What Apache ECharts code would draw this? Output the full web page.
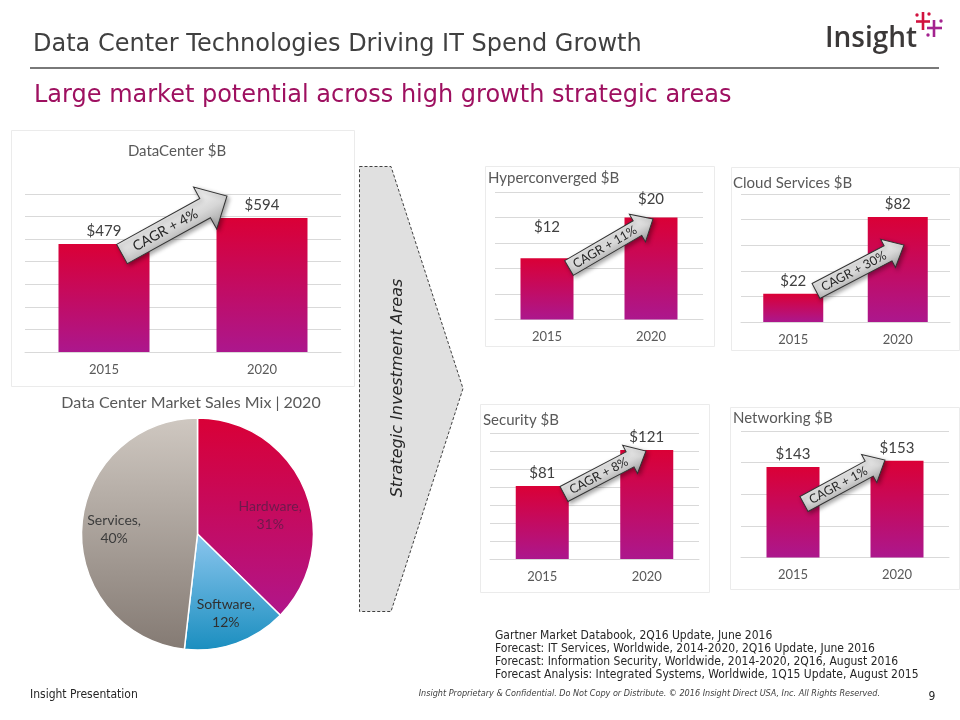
<!DOCTYPE html>
<html><head><meta charset="utf-8">
<script src="https://cdn.jsdelivr.net/npm/echarts@6/dist/echarts.min.js"></script>
<style>html,body{margin:0;padding:0;background:#fff}#c{width:960px;height:720px}</style>
</head><body><div id="c"></div>
<script>
// ---------- data ----------
const years = ['2015', '2020'];
const dataCenter = [479, 594];
const hyperconverged = [12, 20];
const cloudServices = [22, 82];
const security = [81, 121];
const networking = [143, 153];
const cagrLabels = ['CAGR + 4%', 'CAGR + 11%', 'CAGR + 30%', 'CAGR + 8%', 'CAGR + 1%'];
const mixNames = ['Hardware', 'Software', 'Services'];
const mixValues = [31, 12, 40];
const panelTitles = ['DataCenter $B', 'Hyperconverged $B', 'Cloud Services $B', 'Security $B', 'Networking $B'];
const sourceLines = [
  'Gartner Market Databook, 2Q16 Update, June 2016',
  'Forecast: IT Services, Worldwide, 2014-2020, 2Q16 Update, June 2016',
  'Forecast: Information Security, Worldwide, 2014-2020, 2Q16, August 2016',
  'Forecast Analysis: Integrated Systems, Worldwide, 1Q15 Update, August 2015'
];

// ---------- layout ----------
const FONT = 'Lato, "Open Sans", sans-serif';
const panels = [
  { values: dataCenter, grid: { left: 25, top: 194, width: 316, height: 158 }, max: 700, interval: 100, barWidth: 91, gaps: [5, 5] },
  { values: hyperconverged, grid: { left: 495, top: 192, width: 208, height: 127.5 }, max: 25, interval: 5, barWidth: 53, gaps: [24, 11] },
  { values: cloudServices, grid: { left: 741, top: 194, width: 209, height: 128 }, max: 100, interval: 20, barWidth: 60, gaps: [5, 5] },
  { values: security, grid: { left: 490, top: 433, width: 209, height: 126 }, max: 140, interval: 20, barWidth: 53, gaps: [5, 5] },
  { values: networking, grid: { left: 741, top: 431, width: 208, height: 126.5 }, max: 200, interval: 50, barWidth: 53, gaps: [5, 5] }
];
const titlePos = [
  { x: 177, y: 151, align: 'center', size: 15 },
  { x: 488, y: 178, align: 'left', size: 15 },
  { x: 733, y: 183, align: 'left', size: 15 },
  { x: 483, y: 420, align: 'left', size: 15 },
  { x: 733, y: 418, align: 'left', size: 15 }
];
const panelBoxes = [
  [11, 130, 343, 256], [485, 166, 229, 180], [731, 167, 228, 183], [480, 404, 229, 188], [730, 407, 229, 182]
];
const arrows = [
  { a: [122, 254], b: [227, 196], shaft: 22, head: 48, headLen: 25, size: 14 },
  { a: [569, 268], b: [653, 219], shaft: 17, head: 32, headLen: 18, size: 12.5 },
  { a: [816, 291], b: [904, 245], shaft: 17, head: 32, headLen: 18, size: 12.5 },
  { a: [564, 494], b: [646, 451], shaft: 17, head: 32, headLen: 18, size: 12.5 },
  { a: [804, 504], b: [885, 460], shaft: 17, head: 32, headLen: 18, size: 12.5 }
];
const pieCenter = [197.5, 534];
const pieRadius = 116;
const pieLabelRadius = [0.68, 0.73, 0.72];
const pieLabelShift = [[0, 12], [0, 0], [0, 0]];

const barGradient = () => new echarts.graphic.LinearGradient(0, 0, 0, 1, [
  { offset: 0, color: '#da0036' }, { offset: 1, color: '#ac178d' }
]);
const pieColors = [
  ['#d90036', '#b0168b'],
  ['#8cc6ee', '#1a8ebf'],
  ['#cfc8c1', '#847a73']
];
const pieLabelColors = ['#6e1a4c', '#303030', '#3c3c3c'];

// pie label positions (library angles: start at top, clockwise)
const total = mixValues.reduce((s, v) => s + v, 0);
let acc = 0;
const pieLabelPos = mixValues.map((v, i) => {
  const mid = (acc + v / 2) / total * Math.PI * 2;
  acc += v;
  const r = pieRadius * pieLabelRadius[i];
  return [pieCenter[0] + r * Math.sin(mid) + pieLabelShift[i][0], pieCenter[1] - r * Math.cos(mid) + pieLabelShift[i][1]];
});

function cagrArrow(cfg, text) {
  const dx = cfg.b[0] - cfg.a[0], dy = cfg.b[1] - cfg.a[1];
  const L = Math.hypot(dx, dy), rot = Math.atan2(-dy, dx);
  const s = cfg.shaft / 2, h = cfg.head / 2, hl = cfg.headLen;
  return {
    type: 'group', x: cfg.a[0], y: cfg.a[1], rotation: rot,
    children: [
      { type: 'polygon', z: 100,
        shape: { points: [[0, -s], [L - hl, -s], [L - hl, -h], [L, 0], [L - hl, h], [L - hl, s], [0, s]] },
        style: {
          fill: new echarts.graphic.LinearGradient(0, 0, 0, 1, [
            { offset: 0, color: '#fbfbfb' }, { offset: 0.55, color: '#d6d6d6' }, { offset: 1, color: '#9c9c9c' }
          ]),
          stroke: '#333', lineWidth: 1,
          shadowBlur: 4, shadowColor: 'rgba(0,0,0,0.35)', shadowOffsetX: 2, shadowOffsetY: 2
        } },
      { type: 'text', z: 101, x: (L - hl) / 2 + 2, y: 0,
        style: { text: text, font: cfg.size + 'px ' + FONT, fill: '#262626', align: 'center', verticalAlign: 'middle' } }
    ]
  };
}

const grids = [], xAxes = [], yAxes = [], series = [];
panels.forEach((p, i) => {
  grids.push(Object.assign({ containLabel: false }, p.grid));
  xAxes.push({
    type: 'category', gridIndex: i, data: years,
    axisLine: { lineStyle: { color: '#d9d9d9', width: 1 } },
    axisTick: { show: false },
    axisLabel: { color: '#595959', fontSize: 13, fontFamily: FONT, margin: 11 }
  });
  yAxes.push({
    type: 'value', gridIndex: i, min: 0, max: p.max, interval: p.interval,
    axisLine: { show: false }, axisTick: { show: false }, axisLabel: { show: false },
    splitLine: { lineStyle: { color: '#d9d9d9', width: 1 } }
  });
  series.push({
    type: 'bar', xAxisIndex: i, yAxisIndex: i, barWidth: p.barWidth,
    data: p.values.map((v, j) => ({ value: v, label: { distance: p.gaps[j] } })),
    itemStyle: { color: barGradient() },
    label: { show: true, position: 'top', color: '#404040', fontSize: 15, fontFamily: FONT,
      formatter: q => '$' + q.value },
    silent: true
  });
});

series.push({
  type: 'pie', center: pieCenter, radius: [0, pieRadius], startAngle: 90, clockwise: true,
  silent: true,
  data: mixNames.map((n, i) => ({
    name: n, value: mixValues[i],
    itemStyle: { color: new echarts.graphic.LinearGradient(0, 0, 0, 1, [
      { offset: 0, color: pieColors[i][0] }, { offset: 1, color: pieColors[i][1] }
    ]) },
    label: { color: pieLabelColors[i] }
  })),
  itemStyle: { borderColor: '#ffffff', borderWidth: 1.5 },
  label: { show: true, position: 'inside', formatter: '{b},\n{c}%', fontSize: 14, fontFamily: FONT, lineHeight: 18, align: 'center' },
  labelLine: { show: false },
  labelLayout: params => ({ x: pieLabelPos[params.dataIndex][0], y: pieLabelPos[params.dataIndex][1] })
});

const graphics = [];
panelBoxes.forEach(b => graphics.push({ type: 'rect', z: -10, shape: { x: b[0] + 0.5, y: b[1] + 0.5, width: b[2], height: b[3] },
  style: { fill: 'none', stroke: '#ebebeb', lineWidth: 1 } }));
panelTitles.forEach((t, i) => graphics.push({ type: 'text', x: titlePos[i].x, y: titlePos[i].y,
  style: { text: t, font: titlePos[i].size + 'px ' + FONT, fill: '#595959', align: titlePos[i].align, verticalAlign: 'middle' } }));
arrows.forEach((a, i) => graphics.push(cagrArrow(a, cagrLabels[i])));
graphics.push({ type: 'polygon', z: -5, shape: { points: [[359.5, 166.5], [391, 166.5], [463, 388.5], [391, 611.5], [359.5, 611.5]] },
  style: { fill: '#e0e0e0', stroke: '#404040', lineWidth: 1, lineDash: [3, 2] } });
graphics.push({ type: 'text', x: 398, y: 388, rotation: Math.PI / 2,
  style: { text: 'Strategic Investment Areas', font: 'italic 16px "DejaVu Sans", Verdana, sans-serif', fill: '#262626', align: 'center', verticalAlign: 'middle' } });
graphics.push({ type: 'text', x: 191, y: 403,
  style: { text: 'Data Center Market Sales Mix | 2020', font: '16px ' + FONT, fill: '#595959', align: 'center', verticalAlign: 'middle' } });
graphics.push({ type: 'text', x: 33, y: 45,
  style: { text: 'Data Center Technologies Driving IT Spend Growth', font: '24px "DejaVu Sans", Verdana, sans-serif', fill: '#404040', align: 'left', verticalAlign: 'middle' } });
graphics.push({ type: 'line', shape: { x1: 30, y1: 68, x2: 939, y2: 68 }, style: { stroke: '#4d4d4d', lineWidth: 1.5 } });
graphics.push({ type: 'text', x: 34, y: 96,
  style: { text: 'Large market potential across high growth strategic areas', font: '24px "DejaVu Sans", Verdana, sans-serif', fill: '#9e1060', align: 'left', verticalAlign: 'middle' } });
graphics.push({ type: 'text', x: 825, y: 39,
  style: { text: 'Insight', font: '600 28px "Open Sans", sans-serif', fill: '#3b3838', align: 'left', verticalAlign: 'middle' } });
const red = '#d1123f', mag = '#a3238f';
[[923, 12, 923, 30, red], [916, 21.5, 930, 21.5, red], [934, 20, 934, 37, mag], [927, 28, 942, 28, mag]].forEach(l =>
  graphics.push({ type: 'line', shape: { x1: l[0], y1: l[1], x2: l[2], y2: l[3] }, style: { stroke: l[4], lineWidth: 2.6 } }));
[[917, 15, red], [929, 14, red], [941, 21, mag], [928, 35, mag]].forEach(d =>
  graphics.push({ type: 'circle', shape: { cx: d[0], cy: d[1], r: 1.7 }, style: { fill: d[2] } }));
sourceLines.forEach((t, i) => graphics.push({ type: 'text', x: 495, y: 636 + i * 13,
  style: { text: t, font: '12px "DejaVu Sans Condensed", "DejaVu Sans", sans-serif', fill: '#262626', align: 'left', verticalAlign: 'middle' } }));
graphics.push({ type: 'text', x: 30, y: 695,
  style: { text: 'Insight Presentation', font: '12px "DejaVu Sans Condensed", "DejaVu Sans", sans-serif', fill: '#262626', align: 'left', verticalAlign: 'middle' } });
graphics.push({ type: 'text', x: 880, y: 694,
  style: { text: 'Insight Proprietary & Confidential. Do Not Copy or Distribute. © 2016 Insight Direct USA, Inc. All Rights Reserved.', font: 'italic 9px "DejaVu Sans Condensed", "DejaVu Sans", sans-serif', fill: '#404040', align: 'right', verticalAlign: 'middle' } });
graphics.push({ type: 'text', x: 932, y: 697,
  style: { text: '9', font: '12px "DejaVu Sans Condensed", "DejaVu Sans", sans-serif', fill: '#262626', align: 'center', verticalAlign: 'middle' } });

const chart = echarts.init(document.getElementById('c'), null, { renderer: 'canvas' });
chart.setOption({
  backgroundColor: '#ffffff',
  animation: false,
  grid: grids, xAxis: xAxes, yAxis: yAxes, series: series,
  graphic: { elements: graphics }
});
</script></body></html>
